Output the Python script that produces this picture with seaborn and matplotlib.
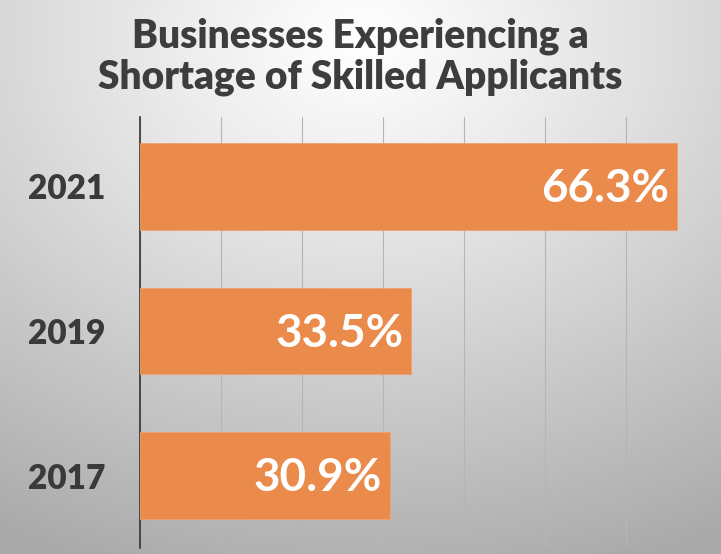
import numpy as np
import pandas as pd
import matplotlib
matplotlib.use("Agg")
import matplotlib.pyplot as plt
import seaborn as sns

years = ["2021", "2019", "2017"]
values = [66.3, 33.5, 30.9]
value_labels = ["66.3%", "33.5%", "30.9%"]
title = "Businesses Experiencing a\nShortage of Skilled Applicants"

df = pd.DataFrame({"year": years, "value": values})

sns.set_theme(style="white")
plt.rcParams["font.family"] = ["Lato", "DejaVu Sans"]

fig = plt.figure(figsize=(7.21, 5.54), dpi=100)

# background radial gradient
bg = fig.add_axes([0, 0, 1, 1], zorder=-10)
yy, xx = np.mgrid[0:554, 0:721]
d = np.sqrt(((xx - 360) / 721.0) ** 2 + ((yy - 40) / 554.0) ** 2)
g = 1.0 - 0.33 * np.clip(d / 1.0, 0, 1) ** 1.1
bg.imshow(np.dstack([g, g, g]), aspect="auto", extent=[0, 1, 0, 1])
bg.axis("off")

ax = fig.add_axes([0.194, 0.011, 0.787, 0.778])
ax.patch.set_alpha(0)
sns.barplot(data=df, x="value", y="year", order=years, color="#EA8B4C",
            saturation=1, width=0.6, ax=ax, zorder=3)
for p in ax.patches:
    p.set_edgecolor("#F0A070")
    p.set_linewidth(0.6)

ax.set_xlim(0, 70)
ax.set_ylim(2.5, -0.48)
ax.set_xticks(np.arange(0, 71, 10))
ax.xaxis.grid(True, color="#b5b5b5", linewidth=0.8, zorder=0)
ax.set_axisbelow(True)
ax.tick_params(axis="x", labelbottom=False, length=0)
ax.tick_params(axis="y", length=0, pad=25)
for lbl in ax.get_yticklabels():
    lbl.set_fontsize(24)
    lbl.set_fontweight("heavy")
    lbl.set_color("#3a3a3a")
ax.set_xlabel("")
ax.set_ylabel("")
for s in ["top", "right", "bottom"]:
    ax.spines[s].set_visible(False)
ax.spines["left"].set_color("#333333")
ax.spines["left"].set_linewidth(1.2)

for i, (v, t) in enumerate(zip(values, value_labels)):
    ax.text(v - 1.0, i + 0.02, t, ha="right", va="center", color="white",
            fontsize=33, fontweight="bold", zorder=5)

fig.text(0.5, 0.898, title, ha="center", va="center", fontsize=28,
         fontweight="heavy", color="#3d3d3d", linespacing=1.12)

fig.savefig("out.png", dpi=100)
